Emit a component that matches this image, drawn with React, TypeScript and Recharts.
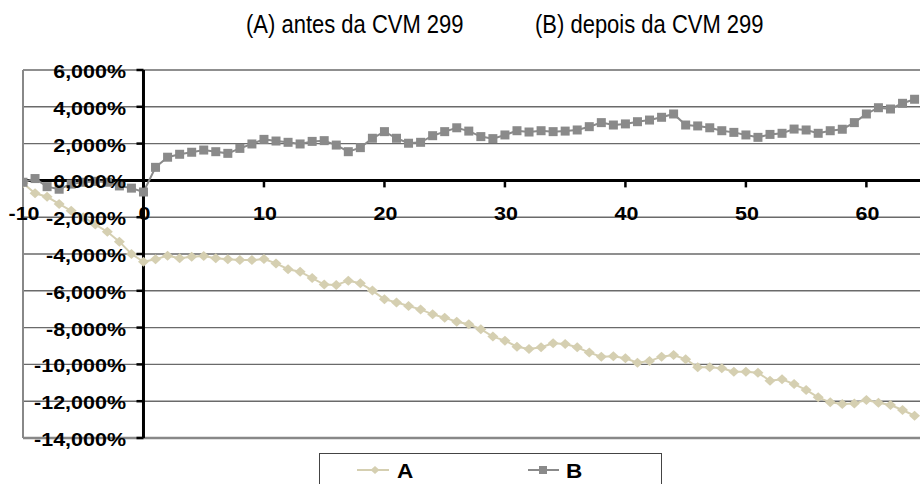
import React from 'react';
import { LineChart, Line, XAxis, YAxis, CartesianGrid, ReferenceLine, Legend } from 'recharts';

const T = [-10, -9, -8, -7, -6, -5, -4, -3, -2, -1, 0, 1, 2, 3, 4, 5, 6, 7, 8, 9, 10, 11, 12, 13, 14, 15, 16, 17, 18, 19, 20, 21, 22, 23, 24, 25, 26, 27, 28, 29, 30, 31, 32, 33, 34, 35, 36, 37, 38, 39, 40, 41, 42, 43, 44, 45, 46, 47, 48, 49, 50, 51, 52, 53, 54, 55, 56, 57, 58, 59, 60, 61, 62, 63, 64];

const SERIES_A = [
  -0.15, -0.7, -0.89, -1.28, -1.65, -2.0, -2.4, -2.79, -3.33, -4.0,
  -4.42, -4.29, -4.09, -4.23, -4.15, -4.11, -4.23, -4.29, -4.33, -4.33,
  -4.27, -4.51, -4.83, -4.96, -5.31, -5.66, -5.68, -5.45, -5.59, -5.99,
  -6.46, -6.63, -6.83, -7.01, -7.28, -7.46, -7.68, -7.82, -8.09, -8.49,
  -8.71, -9.04, -9.16, -9.07, -8.85, -8.89, -9.07, -9.36, -9.58, -9.56,
  -9.67, -9.91, -9.82, -9.58, -9.49, -9.72, -10.16, -10.16, -10.21, -10.4,
  -10.4, -10.45, -10.89, -10.81, -11.07, -11.39, -11.79, -12.06, -12.15, -12.12,
  -11.93, -12.08, -12.21, -12.48, -12.79,
];

const SERIES_B = [
  -0.1, 0.1, -0.34, -0.48, -0.2, -0.1, -0.05, -0.1, -0.3, -0.42,
  -0.63, 0.71, 1.26, 1.42, 1.53, 1.65, 1.56, 1.47, 1.74, 1.98,
  2.23, 2.14, 2.07, 1.98, 2.12, 2.16, 1.92, 1.56, 1.78, 2.29,
  2.65, 2.29, 2.02, 2.07, 2.43, 2.65, 2.86, 2.68, 2.38, 2.27,
  2.47, 2.7, 2.63, 2.7, 2.65, 2.68, 2.74, 2.92, 3.14, 3.01,
  3.07, 3.19, 3.28, 3.43, 3.61, 3.01, 2.96, 2.86, 2.7, 2.61,
  2.47, 2.34, 2.5, 2.56, 2.79, 2.74, 2.56, 2.7, 2.78, 3.14,
  3.61, 3.95, 3.88, 4.19, 4.41,
];

const Y_TICKS = [6, 4, 2, 0, -2, -4, -6, -8, -10, -12, -14];
const X_TICKS = [-10, 0, 10, 20, 30, 40, 50, 60];
const TITLE_A = '(A) antes da CVM 299';
const TITLE_B = '(B) depois da CVM 299';
const NAME_A = 'A';
const NAME_B = 'B';

const COLOR_A = '#d5cfb1';
const COLOR_B = '#8a8a8a';
const FONT = '"Liberation Sans", Arial, sans-serif';

const W = 920;
const H = 484;
const M = { top: 70, right: 0, bottom: 45, left: 22 };
const AXIS_W = 1;
const AXIS_H = 1;
const X_DOMAIN: [number, number] = [-10, 64.45];
const Y_DOMAIN: [number, number] = [-14, 6];
const PLOT_LEFT = M.left + AXIS_W;
const PLOT_W = W - PLOT_LEFT - M.right;
const PLOT_H = H - M.top - M.bottom - AXIS_H;
const ZERO_X = PLOT_LEFT + ((0 - X_DOMAIN[0]) / (X_DOMAIN[1] - X_DOMAIN[0])) * PLOT_W;
const ZERO_Y = M.top + ((Y_DOMAIN[1] - 0) / (Y_DOMAIN[1] - Y_DOMAIN[0])) * PLOT_H;

const DATA = T.map((t, i) => ({ t, A: SERIES_A[i], B: SERIES_B[i] }));

const fmt = (v: number) => v.toFixed(3).replace('.', ',') + '%';

const YTick = (props: any) => {
  const { y, payload } = props;
  return (
    <g>
      <line x1={ZERO_X - 7} x2={ZERO_X} y1={y} y2={y} stroke="#000" strokeWidth={2.5} />
      <text
        transform={`translate(${ZERO_X - 17.5},${y + 8}) scale(1.13,1)`}
        textAnchor="end"
        fontSize={19}
        fontWeight="bold"
        fontFamily={FONT}
        fill="#000"
      >
        {fmt(payload.value)}
      </text>
    </g>
  );
};

const XTick = (props: any) => {
  const { x, payload } = props;
  return (
    <g>
      {payload.value !== X_DOMAIN[0] && (
        <line x1={x} x2={x} y1={ZERO_Y} y2={ZERO_Y + 7} stroke="#000" strokeWidth={2.5} />
      )}
      <text
        transform={`translate(${x + 1},${ZERO_Y + 39.5}) scale(1.13,1)`}
        textAnchor="middle"
        fontSize={19}
        fontWeight="bold"
        fontFamily={FONT}
        fill="#000"
      >
        {payload.value}
      </text>
    </g>
  );
};

const DotA = (p: any) => {
  const { cx, cy, index } = p;
  if (cx == null || cy == null) return <g key={'a' + index} />;
  return (
    <polygon
      key={'a' + index}
      points={`${cx},${cy - 5} ${cx + 5.5},${cy} ${cx},${cy + 5} ${cx - 5.5},${cy}`}
      fill={COLOR_A}
      stroke="none"
    />
  );
};

const DotB = (p: any) => {
  const { cx, cy, index } = p;
  if (cx == null || cy == null) return <g key={'b' + index} />;
  return <rect key={'b' + index} x={cx - 4.5} y={cy - 4.5} width={9} height={9} fill={COLOR_B} stroke="none" />;
};

const LegendBox = () => (
  <div style={{ width: 343, height: 40, position: 'relative' }}>
    <svg width={343} height={40} style={{ position: 'absolute', left: 0, top: 0 }}>
      <rect x={0.5} y={0.5} width={342} height={45} fill="#fff" stroke="#444" strokeWidth={1} />
      <line x1={38} x2={70} y1={17} y2={17} stroke={COLOR_A} strokeWidth={2} />
      <polygon points="56,13 60.5,17 56,21 51.5,17" fill={COLOR_A} />
      <text transform="translate(78,24.5) scale(1.13,1)" fontSize={20} fontWeight="bold" fontFamily={FONT} fill="#000">
        {NAME_A}
      </text>
      <line x1={209} x2={240} y1={17} y2={17} stroke={COLOR_B} strokeWidth={2} />
      <rect x={220} y={13} width={8} height={8} fill={COLOR_B} />
      <text transform="translate(247,24.5) scale(1.13,1)" fontSize={20} fontWeight="bold" fontFamily={FONT} fill="#000">
        {NAME_B}
      </text>
    </svg>
  </div>
);

export default function App() {
  return (
    <div style={{ position: 'absolute', left: 0, top: 0, width: W, height: H, background: '#fff', overflow: 'hidden' }}>
      <svg width={W} height={50} style={{ position: 'absolute', left: 0, top: 0 }}>
        <text transform="translate(246,33) scale(1,1.14)" fontSize={22} fontFamily={FONT} fill="#000">
          {TITLE_A}
        </text>
        <text transform="translate(535,33) scale(1,1.14)" fontSize={22} fontFamily={FONT} fill="#000">
          {TITLE_B}
        </text>
      </svg>
      <div style={{ position: 'absolute', left: 0, top: 0 }}>
        <LineChart width={W} height={H} data={DATA} margin={M}>
          <CartesianGrid vertical={false} stroke="#6a6a6a" strokeWidth={1.4} />
          <ReferenceLine x={X_DOMAIN[0]} stroke="#888" strokeWidth={2} />
          <ReferenceLine y={Y_DOMAIN[0]} stroke="#888" strokeWidth={2.5} />
          <ReferenceLine x={0} stroke="#000" strokeWidth={3} />
          <ReferenceLine y={0} stroke="#000" strokeWidth={3} />
          <Line
            type="linear"
            dataKey="A"
            name={NAME_A}
            stroke={COLOR_A}
            strokeWidth={2}
            dot={DotA}
            activeDot={false}
            isAnimationActive={false}
          />
          <Line
            type="linear"
            dataKey="B"
            name={NAME_B}
            stroke={COLOR_B}
            strokeWidth={2}
            dot={DotB}
            activeDot={false}
            isAnimationActive={false}
          />
          <XAxis
            type="number"
            dataKey="t"
            domain={X_DOMAIN}
            ticks={X_TICKS}
            interval={0}
            allowDataOverflow
            height={AXIS_H}
            axisLine={false}
            tickLine={false}
            tick={XTick}
          />
          <YAxis
            type="number"
            domain={Y_DOMAIN}
            ticks={Y_TICKS}
            interval={0}
            allowDataOverflow
            width={AXIS_W}
            axisLine={false}
            tickLine={false}
            tick={YTick}
          />
          <Legend
            layout="horizontal"
            verticalAlign="middle"
            align="center"
            content={() => <LegendBox />}
            wrapperStyle={{ left: 319, top: 453, width: 343, height: 40 }}
          />
        </LineChart>
      </div>
    </div>
  );
}
